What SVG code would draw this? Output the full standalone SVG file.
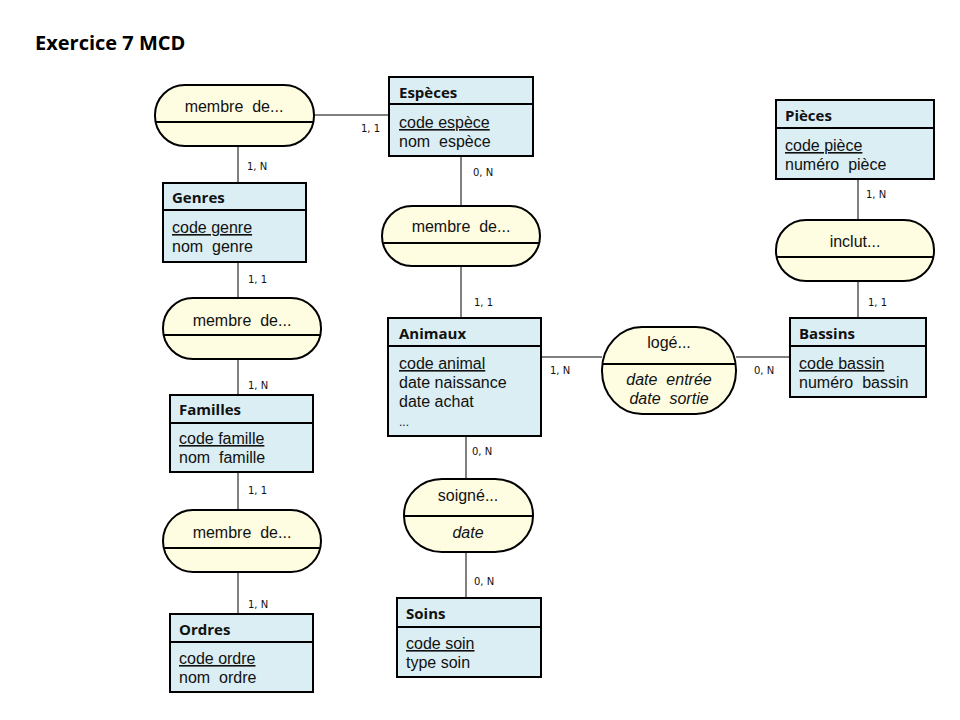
<svg xmlns="http://www.w3.org/2000/svg" width="960" height="720" viewBox="0 0 960 720">
<style>
.ent{fill:#DAEEF3;stroke:#000;stroke-width:2}
.rel{fill:#FFFDE1;stroke:#000;stroke-width:2}
.div{stroke:#000;stroke-width:2}
.con{stroke:#000;stroke-width:1;fill:none}
.title{font-family:"Open Sans","Liberation Sans",sans-serif;font-weight:bold;font-size:15px;fill:#111}
.attr{font-family:"Liberation Sans",Arial,sans-serif;font-size:16px;fill:#111}
.key{text-decoration:underline}
.rl{font-family:"Liberation Sans",Arial,sans-serif;font-size:16px;fill:#111;text-anchor:middle}
.it{font-style:italic}
.card{font-family:"DejaVu Sans","Liberation Sans",sans-serif;font-size:10px;fill:#111}
.h{font-family:"Open Sans","Liberation Sans",sans-serif;font-weight:bold;font-size:20px;fill:#000}
</style>
<rect width="960" height="720" fill="#fff"/>
<text class="h" x="35" y="50">Exercice 7 MCD</text>

<g id="connectors">
<line class="con" x1="314" y1="115" x2="389" y2="115"/>
<line class="con" x1="238" y1="146" x2="238" y2="183"/>
<line class="con" x1="461" y1="156" x2="461" y2="206"/>
<line class="con" x1="461" y1="266" x2="461" y2="318"/>
<line class="con" x1="238" y1="262" x2="238" y2="298"/>
<line class="con" x1="238" y1="359" x2="238" y2="395"/>
<line class="con" x1="238" y1="472" x2="238" y2="510"/>
<line class="con" x1="238" y1="572" x2="238" y2="614"/>
<line class="con" x1="466" y1="436" x2="466" y2="479"/>
<line class="con" x1="466" y1="552" x2="466" y2="598"/>
<line class="con" x1="541" y1="357" x2="602" y2="357"/>
<line class="con" x1="736" y1="357" x2="790" y2="357"/>
<line class="con" x1="858" y1="179" x2="858" y2="220"/>
<line class="con" x1="858" y1="281" x2="858" y2="318"/>
<text class="card" x="361" y="132">1, 1</text>
<text class="card" x="247" y="170">1, N</text>
<text class="card" x="473" y="176">0, N</text>
<text class="card" x="474" y="306">1, 1</text>
<text class="card" x="248" y="283">1, 1</text>
<text class="card" x="248" y="389">1, N</text>
<text class="card" x="248" y="494">1, 1</text>
<text class="card" x="248" y="608">1, N</text>
<text class="card" x="472" y="455">0, N</text>
<text class="card" x="474" y="585">0, N</text>
<text class="card" x="550" y="374">1, N</text>
<text class="card" x="754" y="374">0, N</text>
<text class="card" x="866" y="198">1, N</text>
<text class="card" x="868" y="306">1, 1</text>
</g>

<g id="rel-membre1">
<rect class="rel" x="155" y="85" width="159" height="61" rx="30" ry="30"/>
<line class="div" x1="155" y1="122" x2="314" y2="122"/>
<text class="rl" x="234" y="112">membre&#160; de...</text>
</g>
<g id="rel-membre-especes">
<rect class="rel" x="382" y="206" width="158" height="60" rx="30" ry="30"/>
<line class="div" x1="382" y1="243" x2="540" y2="243"/>
<text class="rl" x="461" y="232">membre&#160; de...</text>
</g>
<g id="rel-membre2">
<rect class="rel" x="163" y="298" width="158" height="61" rx="30" ry="30"/>
<line class="div" x1="163" y1="335" x2="321" y2="335"/>
<text class="rl" x="242" y="326">membre&#160; de...</text>
</g>
<g id="rel-membre3">
<rect class="rel" x="163" y="510" width="158" height="62" rx="30" ry="31"/>
<line class="div" x1="163" y1="548" x2="321" y2="548"/>
<text class="rl" x="242" y="538">membre&#160; de...</text>
</g>
<g id="rel-inclut">
<rect class="rel" x="776" y="220" width="158" height="61" rx="30" ry="30"/>
<line class="div" x1="776" y1="257" x2="934" y2="257"/>
<text class="rl" x="855" y="247">inclut...</text>
</g>
<g id="rel-loge">
<rect class="rel" x="602" y="327" width="134" height="87" rx="40" ry="43"/>
<line class="div" x1="602" y1="364" x2="736" y2="364"/>
<text class="rl" x="669" y="348">logé...</text>
<text class="rl it" x="669" y="385">date&#160; entrée</text>
<text class="rl it" x="669" y="404">date&#160; sortie</text>
</g>
<g id="rel-soigne">
<rect class="rel" x="404" y="479" width="129" height="73" rx="38" ry="36"/>
<line class="div" x1="404" y1="516" x2="533" y2="516"/>
<text class="rl" x="468" y="501">soigné...</text>
<text class="rl it" x="468" y="538">date</text>
</g>

<g id="ent-especes">
<rect class="ent" x="389" y="77" width="144" height="79"/>
<line class="div" x1="389" y1="104" x2="533" y2="104"/>
<text class="title" x="399" y="98">Espèces</text>
<text class="attr key" x="399" y="128">code espèce</text>
<text class="attr" x="399" y="147">nom&#160; espèce</text>
</g>
<g id="ent-genres">
<rect class="ent" x="163" y="183" width="143" height="79"/>
<line class="div" x1="163" y1="210" x2="306" y2="210"/>
<text class="title" x="172" y="203">Genres</text>
<text class="attr key" x="172" y="233">code genre</text>
<text class="attr" x="172" y="252">nom&#160; genre</text>
</g>
<g id="ent-familles">
<rect class="ent" x="170" y="395" width="143" height="77"/>
<line class="div" x1="170" y1="423" x2="313" y2="423"/>
<text class="title" x="179" y="415">Familles</text>
<text class="attr key" x="179" y="444">code famille</text>
<text class="attr" x="179" y="463">nom&#160; famille</text>
</g>
<g id="ent-ordres">
<rect class="ent" x="170" y="614" width="143" height="78"/>
<line class="div" x1="170" y1="642" x2="313" y2="642"/>
<text class="title" x="179" y="635">Ordres</text>
<text class="attr key" x="179" y="664">code ordre</text>
<text class="attr" x="179" y="683">nom&#160; ordre</text>
</g>
<g id="ent-animaux">
<rect class="ent" x="388" y="318" width="153" height="118"/>
<line class="div" x1="388" y1="346" x2="541" y2="346"/>
<text class="title" x="399" y="339">Animaux</text>
<text class="attr key" x="399" y="369">code animal</text>
<text class="attr" x="399" y="388">date naissance</text>
<text class="attr" x="399" y="407">date achat</text>
<text class="attr" x="399" y="426" style="font-size:12px">...</text>
</g>
<g id="ent-soins">
<rect class="ent" x="397" y="598" width="144" height="79"/>
<line class="div" x1="397" y1="627" x2="541" y2="627"/>
<text class="title" x="406" y="619">Soins</text>
<text class="attr key" x="406" y="649">code soin</text>
<text class="attr" x="406" y="668">type soin</text>
</g>
<g id="ent-bassins">
<rect class="ent" x="790" y="318" width="136" height="79"/>
<line class="div" x1="790" y1="346" x2="926" y2="346"/>
<text class="title" x="799" y="339">Bassins</text>
<text class="attr key" x="799" y="369">code bassin</text>
<text class="attr" x="799" y="388">numéro&#160; bassin</text>
</g>
<g id="ent-pieces">
<rect class="ent" x="776" y="100" width="158" height="79"/>
<line class="div" x1="776" y1="128" x2="934" y2="128"/>
<text class="title" x="785" y="121">Pièces</text>
<text class="attr key" x="785" y="151">code pièce</text>
<text class="attr" x="785" y="170">numéro&#160; pièce</text>
</g>
</svg>
